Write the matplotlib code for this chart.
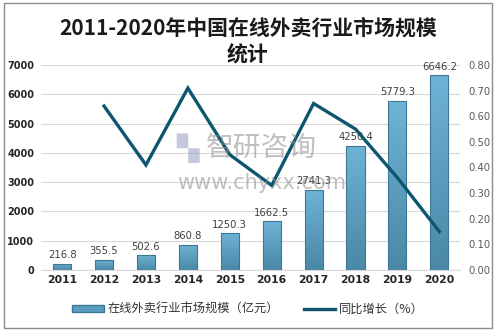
import matplotlib
matplotlib.use("Agg")
import matplotlib.pyplot as plt
import matplotlib.patches as patches
from matplotlib.lines import Line2D
import numpy as np

plt.rcParams['font.family'] = ['Noto Sans CJK SC', 'DejaVu Sans']

years = ['2011', '2012', '2013', '2014', '2015', '2016', '2017', '2018', '2019', '2020']
market_size = [216.8, 355.5, 502.6, 860.8, 1250.3, 1662.5, 2741.3, 4250.4, 5779.3, 6646.2]
growth = [None, 0.64, 0.41, 0.71, 0.45, 0.33, 0.65, 0.55, 0.36, 0.15]

bar_top = '#6fb3d6'
bar_bottom = '#4a88a6'
bar_edge = '#3d7894'
line_color = '#0e5670'

fig = plt.figure(figsize=(4.96, 3.32), dpi=100)
fig.patch.set_facecolor('white')
# thin gray frame round the whole chart
fig.add_artist(patches.Rectangle((0.008, 0.012), 0.984, 0.978, transform=fig.transFigure,
                                 fill=False, edgecolor='#8c8c8c', linewidth=1.0))

ax = fig.add_axes([0.083, 0.187, 0.845, 0.617])
ax2 = ax.twinx()

x = np.arange(len(years))

# bars with a vertical gradient fill
grad = np.linspace(1, 0, 256).reshape(-1, 1)
cmap = matplotlib.colors.LinearSegmentedColormap.from_list('bar', [bar_bottom, bar_top])
width = 0.43
for xi, v in zip(x, market_size):
    rect = patches.Rectangle((xi - width / 2, 0), width, v, facecolor='none',
                             edgecolor=bar_edge, linewidth=0.8, zorder=3)
    ax.add_patch(rect)
    im = ax.imshow(grad, extent=(xi - width / 2, xi + width / 2, 0, v), aspect='auto',
                   cmap=cmap, zorder=2, origin='upper')
    im.set_clip_path(rect)
    ax.text(xi, v + 120, f'{v:.1f}', ha='center', va='bottom', fontsize=7.2,
            color='#404040', zorder=6, family='DejaVu Sans')
ax.set_xlim(-0.5, len(years) - 0.5)
ax.set_ylim(0, 7000)
ax2.set_ylim(0, 0.8)

ax.set_yticks(np.arange(0, 7001, 1000))
ax.yaxis.grid(True, color='#d9d9d9', linewidth=0.8)
ax.set_axisbelow(True)
for s in ax.spines.values():
    s.set_visible(False)
for s in ax2.spines.values():
    s.set_visible(False)
ax.spines['bottom'].set_visible(True)
ax.spines['bottom'].set_color('#d9d9d9')
ax.tick_params(axis='both', length=0)
ax.tick_params(axis='y', labelsize=7.0, labelcolor='#262626', pad=5)
ax.set_xticks(x)
ax.set_xticklabels(years, fontsize=7.8, fontweight='bold', color='#262626', family='DejaVu Sans')
for lab in ax.get_yticklabels():
    lab.set_fontweight('bold')
    lab.set_family('DejaVu Sans')

gx = [xi for xi, g in zip(x, growth) if g is not None]
gy = [g for g in growth if g is not None]
ax2.plot(gx, gy, color=line_color, linewidth=2.4, zorder=5, solid_joinstyle='miter')
ax2.set_yticks(np.arange(0, 0.81, 0.1))
ax2.set_yticklabels([f'{t:.2f}' for t in np.arange(0, 0.81, 0.1)], fontsize=7.2,
                    color='#595959', family='DejaVu Sans')
ax2.tick_params(axis='y', length=0, pad=6)

# watermark
fig.text(0.355, 0.555, '▚', fontsize=21, color='#9aa6c8', alpha=0.6, ha='left', va='center',
         family='DejaVu Sans')
fig.text(0.415, 0.555, '智研咨询', fontsize=20, color='#8c8c8c', alpha=0.55, ha='left', va='center')
fig.text(0.357, 0.45, 'www.chyxx.com', fontsize=15, color='#8c8c8c', alpha=0.55, ha='left',
         va='center', family='DejaVu Sans')

fig.text(0.5, 0.915, '2011-2020年中国在线外卖行业市场规模', ha='center', va='center',
         fontsize=15, fontweight='bold', color='#1a1a1a')
fig.text(0.5, 0.835, '统计', ha='center', va='center', fontsize=15, fontweight='bold',
         color='#1a1a1a')

handles = [patches.Patch(facecolor='#5b9dbe', edgecolor=bar_edge, label='在线外卖行业市场规模（亿元）'),
           Line2D([0], [0], color=line_color, lw=2.4, label='同比增长（%）')]
fig.legend(handles=handles, loc='center', bbox_to_anchor=(0.5, 0.068), ncol=2, frameon=False,
           fontsize=8.8, handlelength=2.6, handleheight=0.6, columnspacing=2.0, handletextpad=0.3,
           labelcolor='#333333')

fig.savefig('out.png', dpi=100)
